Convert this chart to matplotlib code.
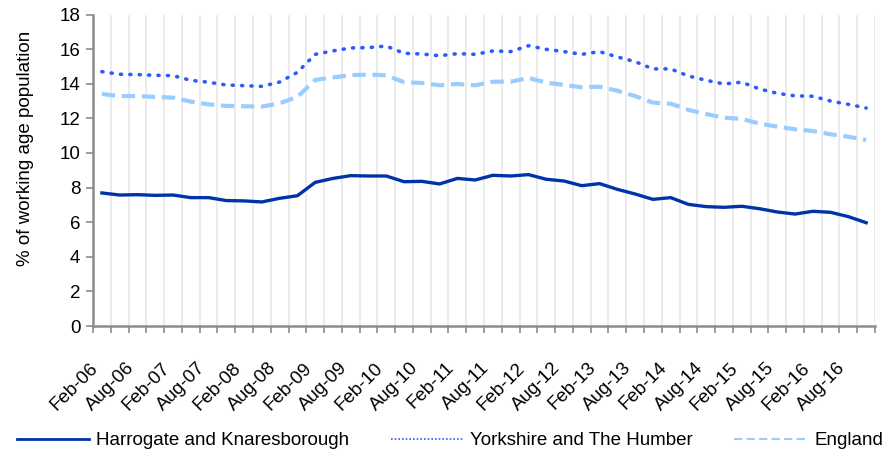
import matplotlib

matplotlib.use("Agg")

import matplotlib.pyplot as plt
import numpy as np
from matplotlib.lines import Line2D

# Quarterly periods, Feb-06 .. Nov-16
months = ["Feb", "May", "Aug", "Nov"]
periods = [f"{m}-{y:02d}" for y in range(6, 17) for m in months]

harrogate = [
    7.69, 7.57, 7.59, 7.55, 7.57, 7.42, 7.42, 7.25, 7.23, 7.17, 7.38, 7.53,
    8.30, 8.53, 8.69, 8.67, 8.67, 8.34, 8.36, 8.21, 8.53, 8.44, 8.71, 8.67,
    8.75, 8.48, 8.38, 8.11, 8.23, 7.90, 7.63, 7.32, 7.42, 7.03, 6.90, 6.86,
    6.92, 6.78, 6.59, 6.47, 6.63, 6.57, 6.32, 5.97,
]
yorkshire = [
    14.70, 14.55, 14.53, 14.49, 14.47, 14.20, 14.09, 13.93, 13.89, 13.85, 14.10, 14.66,
    15.70, 15.90, 16.07, 16.09, 16.18, 15.76, 15.72, 15.62, 15.74, 15.70, 15.90, 15.86,
    16.20, 15.99, 15.86, 15.70, 15.86, 15.55, 15.28, 14.86, 14.86, 14.45, 14.20, 13.99,
    14.09, 13.70, 13.45, 13.30, 13.28, 13.00, 12.81, 12.60,
]
england = [
    13.41, 13.29, 13.29, 13.24, 13.20, 12.97, 12.81, 12.72, 12.70, 12.68, 12.87, 13.24,
    14.22, 14.37, 14.50, 14.53, 14.49, 14.09, 14.05, 13.91, 13.99, 13.91, 14.12, 14.12,
    14.33, 14.07, 13.93, 13.80, 13.83, 13.60, 13.29, 12.91, 12.85, 12.49, 12.25, 12.04,
    11.97, 11.70, 11.52, 11.37, 11.27, 11.08, 10.94, 10.75,
]
series_names = ["Harrogate and Knaresborough", "Yorkshire and The Humber", "England"]

plt.rcParams["font.family"] = ["Liberation Sans", "DejaVu Sans"]

GREY = "#8c8c8c"
C_HARR = "#0033a8"
C_YORK = "#2b5cff"
C_ENG = "#99ccff"
FS = 13.5

fig = plt.figure(figsize=(8.89, 4.55), dpi=100)
ax = fig.add_axes([0.1046, 0.2835, 0.8797, 0.6845])

n = len(periods)
x = np.arange(n) + 0.5

ax.plot(x, harrogate, color=C_HARR, lw=2.4, solid_joinstyle="round")
ax.plot(x, yorkshire, color=C_YORK, lw=2.6, linestyle=(0, (0.3, 2.3)),
        dash_capstyle="round")
ax.plot(x, england, color=C_ENG, lw=3.0, linestyle=(0, (3.2, 1.6)))

ax.set_xlim(0, n)
ax.set_ylim(0, 18)
ax.set_yticks(np.arange(0, 19, 2))

# category boundaries: ticks + light vertical gridlines
ax.set_xticks(np.arange(0, n + 1), minor=True)
ax.grid(True, which="minor", axis="x", color="#e8e8e8", lw=1.2)
ax.set_xticks(x[::2])
ax.set_xticklabels(periods[::2], rotation=45, ha="right", va="top")
ax.tick_params(axis="x", which="major", length=0, pad=24, labelsize=FS)
ax.tick_params(axis="x", which="minor", length=5, width=1.2, color=GREY)
ax.tick_params(axis="y", length=5, width=1.2, color=GREY, labelsize=FS, pad=4)

for side in ("top", "right"):
    ax.spines[side].set_visible(False)
for side in ("left", "bottom"):
    ax.spines[side].set_color(GREY)
    ax.spines[side].set_linewidth(1.8)

ax.set_ylabel("% of working age population", fontsize=FS, va="center")
ax.yaxis.set_label_coords(-0.0863, 0.570)

# legend samples are drawn thin, as in the original
handles = [
    Line2D([], [], color=C_HARR, lw=2.0),
    Line2D([], [], color=C_YORK, lw=1.2, linestyle=(0, (1, 1.2))),
    Line2D([], [], color=C_ENG, lw=1.5, linestyle=(0, (4, 2))),
]
fig.legend(handles, series_names, loc="center left", bbox_to_anchor=(0.0188, 0.031),
           ncol=3, frameon=False, fontsize=FS, handlelength=3.84, handletextpad=0.41,
           columnspacing=2.2, borderpad=0, borderaxespad=0)

fig.savefig("out.png", dpi=100)
